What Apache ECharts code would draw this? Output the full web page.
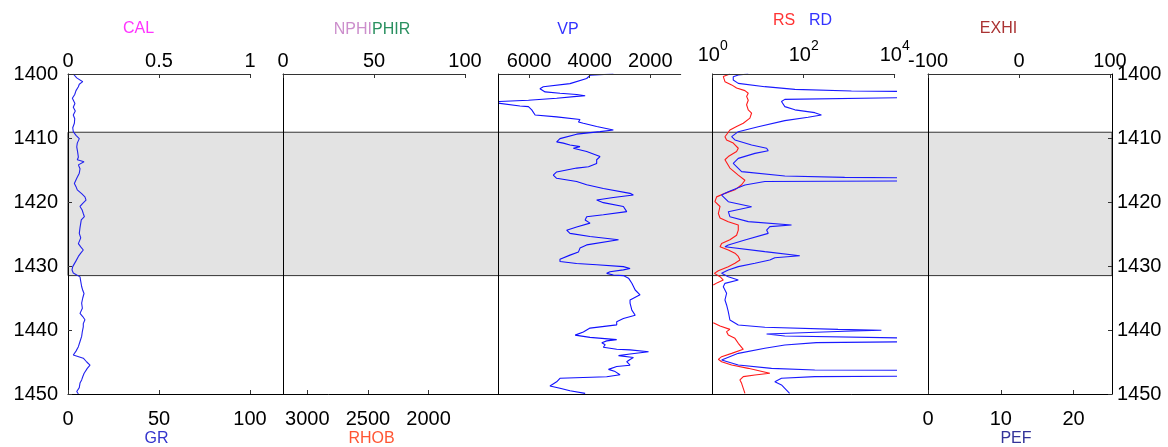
<!DOCTYPE html>
<html>
<head>
<meta charset="utf-8">
<title>Well log</title>
<script src="https://cdn.jsdelivr.net/npm/echarts@6/dist/echarts.min.js"></script>
<style>
  html, body { margin: 0; padding: 0; background: #fff; }
  #chart { width: 1168px; height: 447px; }
</style>
</head>
<body>
<div id="chart"></div>
<script>
// Depth window and the highlighted interval (m)
const depthRange = [1400, 1450];
const depthTicks = [1400, 1410, 1420, 1430, 1440, 1450];
const zoneTop = 1409.1;
const zoneBase = 1431.5;

// Tick labels of the track scales
const calTicks = [0, 0.5, 1];
const nphiTicks = [0, 50, 100];
const vpTicks = [6000, 4000, 2000];
const resTicks = [1, 100, 10000];
const exhiTicks = [-100, 0, 100];
const grTicks = [0, 50, 100];
const rhobTicks = [3000, 2500, 2000];
const pefTicks = [0, 10, 20];

// GR (API) against depth
const grDepth = [1400.0, 1400.6, 1401.2, 1401.6, 1402.0, 1402.6, 1403.2, 1403.8, 1404.6, 1405.2, 1405.8, 1406.4, 1407.0, 1407.7, 1408.4, 1409.0, 1409.6, 1410.1, 1410.8, 1411.4, 1412.2, 1413.0, 1413.4, 1413.7, 1414.2, 1414.8, 1415.5, 1416.3, 1417.1, 1417.6, 1418.1, 1418.7, 1419.2, 1419.7, 1420.2, 1420.7, 1421.2, 1421.8, 1422.3, 1422.8, 1423.3, 1424.0, 1424.9, 1425.6, 1426.5, 1427.0, 1427.5, 1428.0, 1428.5, 1429.2, 1430.1, 1430.6, 1431.1, 1431.7, 1432.4, 1433.2, 1433.8, 1434.3, 1435.0, 1435.8, 1436.6, 1437.4, 1437.9, 1438.4, 1439.0, 1439.5, 1440.2, 1441.0, 1441.8, 1442.6, 1443.3, 1443.9, 1444.4, 1445.0, 1445.5, 1446.0, 1446.3, 1446.8, 1447.3, 1447.8, 1448.3, 1449.0, 1449.6, 1450.0];
const grValue = [2.9, 4.8, 8.1, 6.2, 5.7, 4.4, 3.7, 2.4, 3.8, 2.9, 4.0, 2.9, 3.7, 3.5, 2.6, 2.9, 4.4, 6.2, 5.1, 4.8, 5.3, 5.7, 5.1, 8.8, 5.7, 6.6, 6.2, 4.8, 3.5, 4.4, 5.1, 7.5, 9.3, 9.9, 8.1, 6.6, 7.7, 8.4, 9.0, 7.3, 7.0, 6.6, 6.2, 7.0, 5.7, 7.0, 8.4, 7.0, 5.7, 4.4, 2.6, 2.2, 2.9, 6.6, 7.0, 7.5, 8.1, 8.8, 8.1, 7.5, 7.9, 6.6, 8.1, 9.3, 8.4, 8.4, 7.9, 7.5, 6.6, 5.7, 4.4, 2.9, 8.4, 10.3, 12.1, 10.6, 10.3, 8.8, 8.1, 7.5, 6.6, 6.2, 4.8, 5.7];

// VP (m/s) against depth
const vpDepth = [1400.0, 1400.2, 1400.7, 1401.5, 1402.0, 1402.3, 1402.8, 1403.0, 1403.2, 1403.4, 1403.5, 1403.8, 1404.1, 1404.3, 1404.5, 1404.7, 1405.0, 1405.1, 1405.6, 1406.4, 1406.7, 1407.1, 1407.5, 1407.7, 1408.2, 1408.75, 1409.0, 1409.4, 1410.1, 1410.6, 1410.8, 1411.1, 1411.35, 1411.6, 1412.1, 1412.9, 1413.4, 1414.0, 1414.5, 1414.7, 1415.3, 1415.8, 1416.3, 1416.8, 1417.3, 1417.9, 1418.65, 1418.9, 1419.3, 1419.7, 1420.1, 1420.7, 1421.5, 1422.0, 1422.3, 1422.8, 1423.3, 1423.9, 1424.4, 1424.9, 1425.4, 1425.9, 1426.2, 1426.7, 1427.2, 1427.8, 1428.3, 1428.96, 1429.3, 1429.6, 1429.8, 1430.1, 1430.4, 1430.6, 1430.9, 1431.15, 1431.4, 1431.5, 1431.9, 1432.7, 1433.75, 1434.5, 1435.3, 1435.8, 1436.9, 1437.7, 1438.2, 1438.7, 1439.2, 1439.7, 1440.3, 1440.8, 1441.15, 1441.5, 1441.7, 1442.0, 1442.3, 1442.7, 1443.0, 1443.1, 1443.4, 1443.75, 1444.0, 1444.3, 1444.6, 1444.95, 1445.5, 1445.7, 1446.15, 1446.5, 1447.0, 1447.3, 1447.55, 1448.1, 1448.75, 1449.1, 1449.5, 1449.9];
const vpValue = [3220, 3990, 4100, 4650, 5530, 5640, 5470, 4980, 4430, 4150, 4430, 5090, 6020, 6980, 7100, 7100, 6300, 6020, 5910, 5800, 5090, 4320, 4370, 4210, 3770, 3220, 3660, 4430, 4980, 5090, 4870, 4650, 4320, 4540, 4100, 3660, 3770, 3770, 4040, 4430, 5090, 5200, 5090, 4430, 4100, 3550, 2670, 2560, 3220, 3770, 3550, 2890, 2780, 3550, 4100, 4150, 3990, 4430, 4760, 4650, 3990, 3050, 3110, 4100, 4320, 4370, 4650, 4980, 4980, 4430, 3770, 2890, 2670, 2890, 3330, 3440, 3220, 2890, 2720, 2610, 2500, 2340, 2670, 2670, 2610, 2500, 2890, 3110, 3110, 3990, 4210, 4480, 3990, 3110, 3440, 3600, 3490, 3550, 3110, 2670, 2060, 2670, 3050, 2560, 2670, 2780, 2670, 3110, 3380, 3160, 3000, 3440, 4980, 5090, 5310, 4980, 4650, 4150];

// Shallow resistivity RS (ohm.m); null marks the missing interval
const rsDepth = [1400.0, 1400.4, 1401.2, 1401.7, 1402.2, 1402.6, 1403.0, 1403.5, 1404.1, 1404.8, 1405.6, 1406.1, 1406.9, 1407.7, 1408.2, 1408.75, 1409.8, 1410.3, 1410.8, 1411.6, 1412.1, 1412.9, 1413.4, 1414.7, 1415.8, 1416.6, 1417.3, 1418.1, 1418.65, 1419.2, 1419.95, 1420.7, 1421.8, 1422.5, 1423.1, 1423.6, 1424.4, 1425.2, 1425.9, 1426.5, 1427.0, 1427.5, 1428.0, 1428.5, 1429.06, 1429.58, 1430.1, 1430.73, 1431.15, 1431.41, 1431.67, 1432.19, 1432.6, 1432.97, 1435.0, 1438.85, 1439.38, 1439.9, 1440.26, 1440.78, 1441.3, 1442.08, 1443.02, 1443.65, 1444.17, 1444.58, 1444.95, 1445.47, 1445.99, 1446.51, 1446.77, 1447.03, 1447.29, 1447.81, 1448.33, 1449.11, 1449.9];
const rsValue = [2.39, 1.71, 1.86, 2.61, 3.35, 5.11, 6.04, 5.56, 6.04, 5.56, 6.04, 7.16, 6.57, 4.70, 3.35, 2.39, 1.86, 2.02, 2.83, 3.65, 3.35, 2.20, 1.86, 2.39, 3.65, 5.11, 4.32, 3.08, 1.86, 1.22, 1.12, 1.45, 1.33, 1.45, 2.20, 3.65, 3.65, 3.35, 2.39, 1.57, 1.45, 2.20, 3.08, 3.65, 3.97, 3.08, 2.20, 1.33, 1.09, 1.12, 1.45, 1.71, 1.27, 1.03, null, 1.03, 1.45, 2.39, 2.02, 2.20, 3.08, 3.65, 4.70, 2.61, 1.57, 1.33, 1.57, 2.61, 6.04, 12.9, 18.0, 8.47, 4.70, 3.97, 4.32, 4.70, 5.11];

// Deep resistivity RD (ohm.m); readings above 1e4 run off the scale
const rdDepth = [1400.0, 1400.16, 1400.42, 1400.94, 1401.46, 1401.98, 1402.4, 1402.66, 1402.76, 1403.65, 1403.96, 1404.3, 1405.1, 1405.6, 1406.04, 1406.41, 1406.77, 1407.29, 1408.23, 1409.01, 1409.79, 1410.31, 1411.09, 1411.61, 1411.98, 1412.4, 1413.18, 1413.96, 1415.26, 1415.94, 1416.15, 1416.25, 1416.7, 1416.8, 1417.34, 1418.39, 1418.91, 1419.95, 1420.73, 1420.99, 1421.51, 1422.29, 1423.07, 1423.59, 1423.85, 1424.38, 1424.9, 1425.94, 1426.72, 1426.98, 1427.76, 1428.4, 1428.7, 1429.06, 1429.58, 1430.1, 1430.63, 1431.15, 1431.41, 1431.67, 1432.19, 1432.45, 1432.71, 1433.23, 1434.27, 1435.31, 1436.09, 1437.14, 1438.44, 1439.22, 1439.58, 1439.9, 1440.05, 1440.2, 1440.63, 1440.94, 1441.3, 1441.82, 1441.98, 1442.34, 1442.86, 1443.65, 1444.69, 1445.47, 1445.99, 1446.25, 1446.3, 1447.2, 1447.29, 1447.55, 1448.07, 1448.59, 1449.9];
const rdValue = [6.04, 3.65, 2.83, 2.83, 3.65, 14.0, 64, 1120, 50000, 50000, 38.5, 32.5, 38.5, 64, 175, 245, 125, 38.5, 10.0, 3.65, 2.61, 3.08, 7.16, 15.3, 16.6, 8.47, 3.65, 2.83, 4.32, 38.5, 795, 50000, 50000, 14.0, 5.11, 2.20, 1.57, 2.20, 7.16, 7.16, 2.20, 2.39, 6.04, 54, 18.0, 15.3, 16.6, 5.11, 2.20, 1.86, 14.0, 82, 23.2, 18.0, 8.47, 3.65, 2.20, 1.57, 1.45, 2.20, 3.65, 3.65, 1.86, 1.71, 2.02, 1.86, 2.02, 2.20, 2.39, 3.65, 14.0, 570, 5100, 795, 15.3, 38.5, 50000, 50000, 190, 38.5, 14.0, 3.65, 1.57, 3.65, 19.6, 175, 50000, 50000, 175, 32.5, 23.2, 32.5, 49];

const FONT = '"Liberation Sans", Arial, Helvetica, sans-serif';
const AXIS_COLOR = '#333';
const TOP = 74, HEIGHT = 320, TRACK_W = 182;
const trackLeft = [68, 283, 498.7, 712.7, 928];

const pairs = (depths, values) => depths.map((d, i) => [values[i] == null ? null : values[i], d]);

// plain numbers, no thousands separator
const plain = v => String(v);
const tickLabel = { fontFamily: FONT, fontSize: 20, color: '#000', formatter: plain };

function trackAxis(grid, position, extra) {
  return Object.assign({
    type: 'value',
    gridIndex: grid,
    position: position,
    z: 10,
    axisLine: { show: position === 'top', onZero: false, lineStyle: { color: AXIS_COLOR, width: 1 } },
    axisTick: { show: true, inside: true, length: 4, lineStyle: { color: AXIS_COLOR } },
    axisLabel: Object.assign({ margin: position === 'top' ? 3 : 15 }, tickLabel),
    splitLine: { show: false }
  }, extra);
}

const grids = [{ left: 68, top: TOP, width: 1044, height: HEIGHT }]
  .concat(trackLeft.map(l => ({ left: l, top: TOP, width: TRACK_W, height: HEIGHT })));

const xAxes = [
  // frame: continuous base line
  { type: 'value', gridIndex: 0, min: 0, max: 1, position: 'bottom', z: 10,
    axisLine: { show: true, onZero: false, lineStyle: { color: '#000' } },
    axisTick: { show: false }, axisLabel: { show: false }, splitLine: { show: false } },
  trackAxis(1, 'top', { min: 0, max: 1, interval: 0.5 }),
  trackAxis(1, 'bottom', { min: 0, max: 100, interval: 50 }),
  trackAxis(2, 'top', { min: 0, max: 100, interval: 50 }),
  trackAxis(2, 'bottom', { min: 1700, max: 3200, inverse: true,
    axisTick: { show: true, inside: true, length: 4, customValues: rhobTicks, lineStyle: { color: AXIS_COLOR } },
    axisLabel: Object.assign({}, tickLabel, { margin: 15, customValues: rhobTicks }) }),
  trackAxis(3, 'top', { min: 1000, max: 7000, inverse: true,
    axisTick: { show: true, inside: true, length: 4, customValues: vpTicks, lineStyle: { color: AXIS_COLOR } },
    axisLabel: Object.assign({}, tickLabel, { margin: 3, customValues: vpTicks }) }),
  trackAxis(4, 'top', { type: 'log', logBase: 10, min: 1, max: 10000, interval: 2,
    axisLabel: Object.assign({}, tickLabel, { margin: 3,
      formatter: v => '{b|10}{s|' + Math.round(Math.log10(v)) + '}',
      rich: { b: { fontFamily: FONT, fontSize: 20, color: '#000' },
              s: { fontFamily: FONT, fontSize: 14, color: '#000', verticalAlign: 'top', padding: [0, 0, 18, 0] } } }) }),
  trackAxis(5, 'top', { min: -100, max: 100, interval: 100 }),
  trackAxis(5, 'bottom', { min: 0, max: 25,
    axisTick: { show: true, inside: true, length: 4, customValues: pefTicks, lineStyle: { color: AXIS_COLOR } },
    axisLabel: Object.assign({}, tickLabel, { margin: 15, customValues: pefTicks }) })
];

const depthAxis = (grid, position, showLine, labels) => ({
  type: 'value', gridIndex: grid, position: position, inverse: true, z: 10,
  min: depthRange[0], max: depthRange[1], interval: 10,
  axisLine: { show: showLine, onZero: false, lineStyle: { color: '#000' } },
  axisTick: { show: labels, inside: true, length: 4, lineStyle: { color: AXIS_COLOR } },
  axisLabel: Object.assign({}, tickLabel, { show: labels, margin: position === 'left' ? 10 : 5 }),
  splitLine: { show: false }
});

const yAxes = [
  depthAxis(0, 'left', true, true),
  depthAxis(0, 'right', true, true),
  depthAxis(1, 'left', false, false),
  depthAxis(2, 'left', true, false),
  depthAxis(3, 'left', true, false),
  depthAxis(4, 'left', true, false),
  depthAxis(5, 'left', true, false)
];

const curve = (name, xi, yi, data, color) => ({
  name: name, type: 'line', xAxisIndex: xi, yAxisIndex: yi, data: data,
  showSymbol: false, symbol: 'none', connectNulls: false, clip: true,
  lineStyle: { color: color, width: 1.1 }, z: 3
});

const text = (str, x, y, color) => ({
  type: 'text', x: x, y: y,
  style: { text: str, fill: color, font: '16px ' + FONT, align: 'center', verticalAlign: 'middle' }
});

const option = {
  animation: false,
  backgroundColor: '#fff',
  grid: grids,
  xAxis: xAxes,
  yAxis: yAxes,
  series: [
    { type: 'line', xAxisIndex: 0, yAxisIndex: 0, data: [], z: -1, silent: true,
      markArea: { silent: true, z: -1,
        itemStyle: { color: '#e3e3e3', borderColor: '#333', borderWidth: 1 },
        data: [[{ yAxis: zoneTop }, { yAxis: zoneBase }]] } },
    curve('GR', 2, 2, pairs(grDepth, grValue), '#2222ee'),
    curve('VP', 5, 4, pairs(vpDepth, vpValue), '#1010ff'),
    curve('RS', 6, 5, pairs(rsDepth, rsValue), '#ff1a1a'),
    curve('RD', 6, 5, pairs(rdDepth, rdValue), '#1a1aff')
  ],
  graphic: [
    text('CAL', 138.5, 29, '#ff33ff'),
    { type: 'text', x: 372, y: 30,
      style: { text: '{a|NPHI}{b|PHIR}', align: 'center', verticalAlign: 'middle',
        rich: { a: { fill: '#cc8fcc', font: '16px ' + FONT }, b: { fill: '#2a9060', font: '16px ' + FONT } } } },
    text('VP', 568, 30, '#3333ff'),
    text('RS', 784, 20.5, '#ff3333'),
    text('RD', 820.5, 20.5, '#3333ff'),
    text('EXHI', 998.5, 29, '#aa3333'),
    text('GR', 156.5, 438.5, '#3333cc'),
    text('RHOB', 371.5, 438.5, '#ff5533'),
    text('PEF', 1016, 438.5, '#333399')
  ]
};

const chart = echarts.init(document.getElementById('chart'), null, { renderer: 'canvas' });
chart.setOption(option);
</script>
</body>
</html>
